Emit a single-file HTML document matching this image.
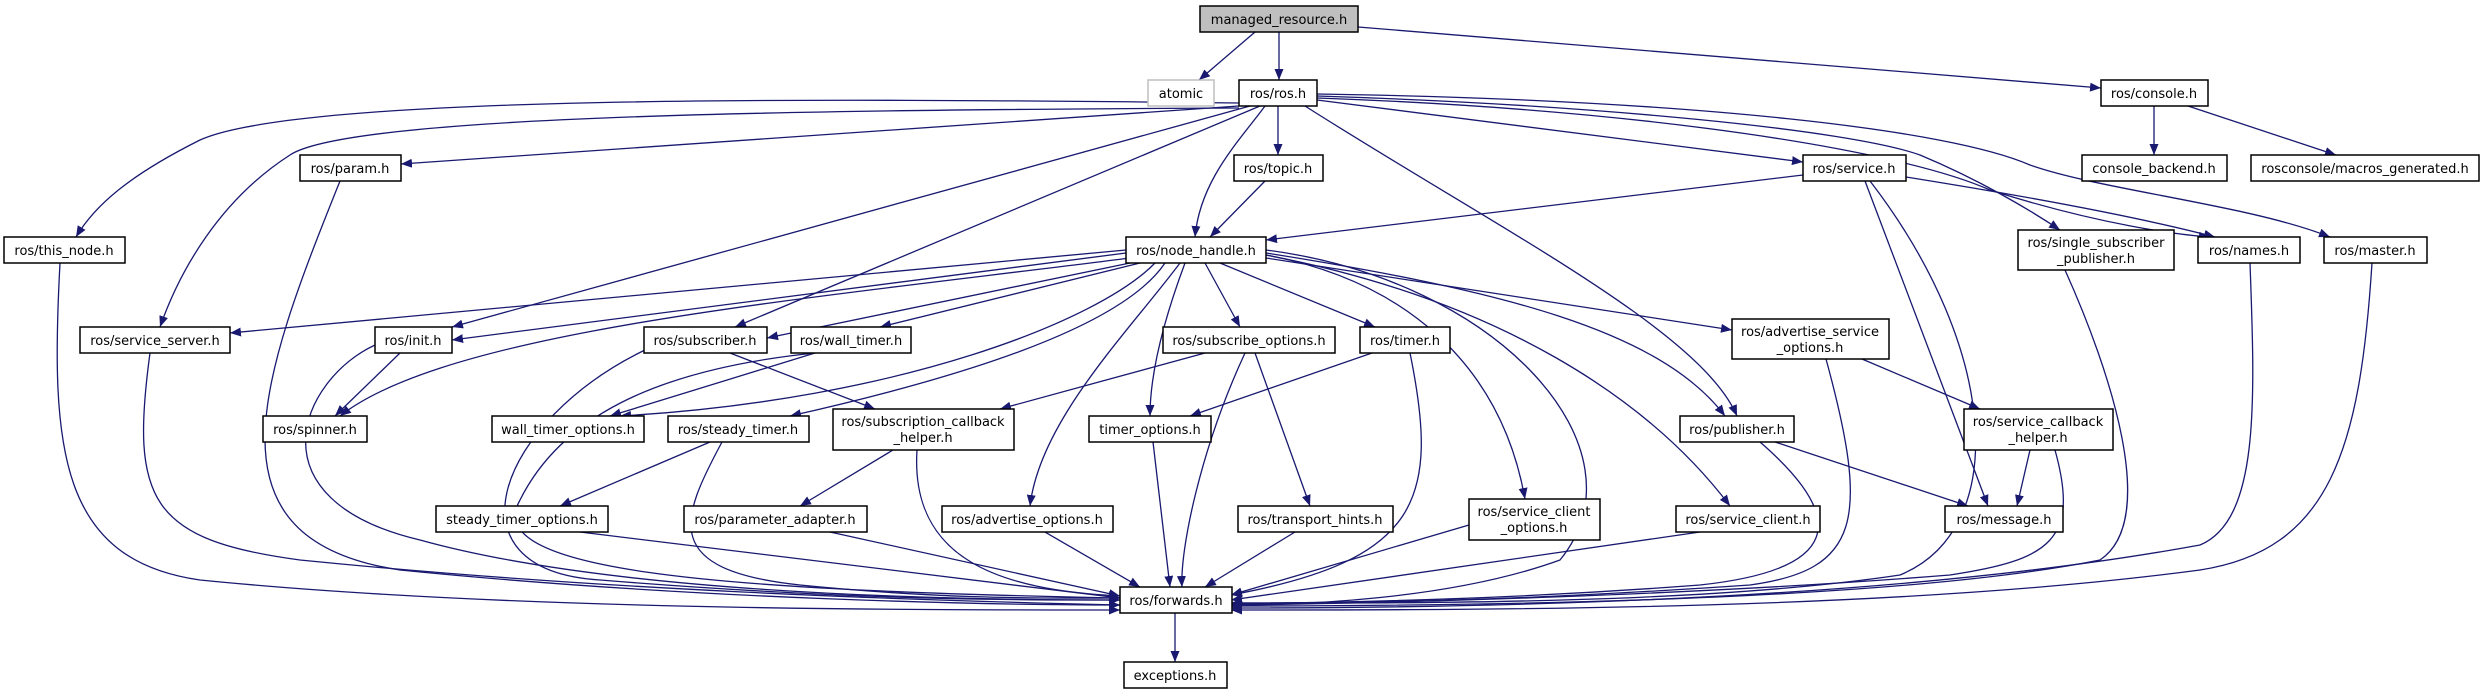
<!DOCTYPE html>
<html><head><meta charset="utf-8"><style>
html,body{margin:0;padding:0;background:#fff;}
svg{display:block;}
text{font-family:"DejaVu Sans","Liberation Sans",sans-serif;font-size:13px;fill:#000;}
.e{fill:none;stroke:#191970;stroke-width:1.3;}
.n{fill:#fff;stroke:#000;stroke-width:1.5;}
</style></head><body>
<svg width="2485" height="693" viewBox="0 0 2485 693" xmlns="http://www.w3.org/2000/svg">
<defs><marker id="a" markerWidth="11" markerHeight="9" refX="11" refY="4.5" orient="auto" markerUnits="userSpaceOnUse"><path d="M0,0 L11,4.5 L0,9z" fill="#191970"/></marker></defs>
<g class="e" marker-end="url(#a)">
<path d="M1255,32 L1199,80"/>
<path d="M1279,32 L1279,80"/>
<path d="M1358,27 L2101,88"/>
<path d="M2154,106 L2154,155"/>
<path d="M2188,106 L2336,155"/>
<path d="M1239,103 C800,98 300,95 200,140 C130,175 95,205 76,237"/>
<path d="M1239,108 C800,110 350,115 290,155 C220,200 180,270 160,327"/>
<path d="M1239,106 L401,164"/>
<path d="M1250,106 L452,327"/>
<path d="M1260,106 L735,327"/>
<path d="M1265,106 C1240,140 1200,180 1195,237"/>
<path d="M1278,106 L1278,155"/>
<path d="M1265,181 L1210,237"/>
<path d="M1305,106 C1500,230 1700,330 1737,416"/>
<path d="M1317,100 L1803,162"/>
<path d="M1317,96 C1600,105 1850,130 1920,155 C1980,180 2030,210 2060,230"/>
<path d="M1317,98 C1650,110 1900,150 1990,190 C2100,225 2180,235 2210,237"/>
<path d="M1317,94 C1700,100 1950,130 2030,165 C2100,190 2250,205 2330,237"/>
<path d="M1803,175 L1266,240"/>
<path d="M1906,177 C2050,200 2150,220 2215,237"/>
<path d="M1865,181 L1988,506"/>
<path d="M1870,181 C2000,350 2010,530 1900,575 C1700,605 1400,603 1231,603"/>
<path d="M1126,250 L230,333"/>
<path d="M1126,253 L452,340"/>
<path d="M1130,258 C800,300 450,330 340,416"/>
<path d="M1130,263 L767,338"/>
<path d="M1140,263 L880,327"/>
<path d="M1155,263 C1100,320 900,400 620,416"/>
<path d="M1165,263 C1120,330 950,380 790,416"/>
<path d="M1205,263 L1240,327"/>
<path d="M1220,263 L1375,327"/>
<path d="M1185,263 C1160,330 1150,380 1150,416"/>
<path d="M1180,263 C1130,330 1040,420 1030,506"/>
<path d="M1266,255 C1400,280 1500,360 1525,499"/>
<path d="M1266,250 C1500,280 1650,450 1560,560 C1450,600 1300,605 1231,605"/>
<path d="M1266,255 C1500,300 1650,400 1730,506"/>
<path d="M1266,253 C1500,290 1660,330 1725,416"/>
<path d="M1266,258 L1732,330"/>
<path d="M340,181 C260,380 200,540 400,570 C700,600 1000,605 1120,605"/>
<path d="M60,263 C50,450 60,560 200,580 C500,610 900,610 1120,610"/>
<path d="M150,353 C130,500 150,540 300,560 C600,590 900,600 1120,605"/>
<path d="M400,353 L335,416"/>
<path d="M375,345 C300,380 250,500 420,540 C600,590 900,600 1120,600"/>
<path d="M730,353 L875,409"/>
<path d="M645,350 C500,420 440,570 600,580 C850,600 1000,600 1120,600"/>
<path d="M815,353 L610,416"/>
<path d="M815,353 C650,370 560,420 520,500 C480,570 700,590 1120,598"/>
<path d="M710,442 L560,506"/>
<path d="M722,442 C680,520 660,570 800,585 C950,600 1050,598 1120,598"/>
<path d="M893,450 L800,506"/>
<path d="M917,450 C910,560 1000,590 1120,596"/>
<path d="M1205,353 L1000,409"/>
<path d="M1255,353 L1310,506"/>
<path d="M1245,353 C1200,450 1180,550 1182,587"/>
<path d="M1372,353 L1190,416"/>
<path d="M1410,353 C1440,500 1420,560 1231,595"/>
<path d="M1153,442 L1170,587"/>
<path d="M580,532 L1120,598"/>
<path d="M830,532 L1120,596"/>
<path d="M1045,532 L1140,587"/>
<path d="M1295,532 L1205,587"/>
<path d="M1469,525 L1231,595"/>
<path d="M1700,532 L1231,600"/>
<path d="M1775,442 L1968,506"/>
<path d="M1760,442 C1850,520 1840,570 1700,585 C1500,600 1350,602 1231,604"/>
<path d="M1862,359 L1980,409"/>
<path d="M1826,359 C1870,520 1860,570 1750,585 C1500,602 1350,603 1231,603"/>
<path d="M2030,450 L2017,506"/>
<path d="M2055,450 C2080,540 2050,560 1950,575 C1700,595 1400,603 1231,605"/>
<path d="M2065,270 C2110,370 2160,520 2100,560 C1900,600 1500,606 1231,606"/>
<path d="M2250,263 C2255,400 2260,520 2200,545 C1900,600 1500,608 1231,608"/>
<path d="M2372,263 C2360,450 2330,550 2200,570 C1900,610 1500,610 1231,610"/>
<path d="M1175,612 L1175,662"/>
</g>
<rect x="1200" y="6" width="158" height="26" fill="#bfbfbf" stroke="#000" stroke-width="1.5"/>
<text x="1279" y="24" text-anchor="middle">managed_resource.h</text>
<rect x="1148" y="80" width="66" height="26" fill="#fff" stroke="#bfbfbf" stroke-width="1.5"/>
<text x="1181" y="98" text-anchor="middle">atomic</text>
<g class="n">
<rect x="1239" y="80" width="78" height="26"/>
<rect x="2101" y="80" width="107" height="26"/>
<rect x="2082" y="155" width="145" height="26"/>
<rect x="2251" y="155" width="228" height="26"/>
<rect x="300" y="155" width="101" height="26"/>
<rect x="1234" y="155" width="89" height="26"/>
<rect x="1803" y="155" width="103" height="26"/>
<rect x="4" y="237" width="121" height="26"/>
<rect x="1126" y="237" width="140" height="26"/>
<rect x="2018" y="230" width="156" height="40"/>
<rect x="2198" y="237" width="102" height="26"/>
<rect x="2324" y="237" width="103" height="26"/>
<rect x="80" y="327" width="150" height="26"/>
<rect x="375" y="327" width="77" height="26"/>
<rect x="644" y="327" width="123" height="26"/>
<rect x="791" y="327" width="120" height="26"/>
<rect x="1163" y="327" width="172" height="26"/>
<rect x="1360" y="327" width="90" height="26"/>
<rect x="1732" y="319" width="157" height="40"/>
<rect x="263" y="416" width="104" height="26"/>
<rect x="492" y="416" width="152" height="26"/>
<rect x="668" y="416" width="141" height="26"/>
<rect x="833" y="409" width="181" height="41"/>
<rect x="1089" y="416" width="122" height="26"/>
<rect x="1680" y="416" width="114" height="26"/>
<rect x="1964" y="409" width="149" height="41"/>
<rect x="436" y="506" width="172" height="26"/>
<rect x="684" y="506" width="183" height="26"/>
<rect x="942" y="506" width="171" height="26"/>
<rect x="1238" y="506" width="155" height="26"/>
<rect x="1469" y="499" width="131" height="41"/>
<rect x="1676" y="506" width="144" height="26"/>
<rect x="1945" y="506" width="118" height="26"/>
<rect x="1120" y="587" width="112" height="26"/>
<rect x="1124" y="662" width="103" height="26"/>
</g>
<g text-anchor="middle">
<text x="1278" y="98">ros/ros.h</text>
<text x="2154" y="98">ros/console.h</text>
<text x="2154" y="173">console_backend.h</text>
<text x="2365" y="173">rosconsole/macros_generated.h</text>
<text x="350" y="173">ros/param.h</text>
<text x="1278" y="173">ros/topic.h</text>
<text x="1854" y="173">ros/service.h</text>
<text x="64" y="255">ros/this_node.h</text>
<text x="1196" y="255">ros/node_handle.h</text>
<text x="2096" y="247">ros/single_subscriber</text>
<text x="2096" y="263">_publisher.h</text>
<text x="2249" y="255">ros/names.h</text>
<text x="2375" y="255">ros/master.h</text>
<text x="155" y="345">ros/service_server.h</text>
<text x="413" y="345">ros/init.h</text>
<text x="705" y="345">ros/subscriber.h</text>
<text x="851" y="345">ros/wall_timer.h</text>
<text x="1249" y="345">ros/subscribe_options.h</text>
<text x="1405" y="345">ros/timer.h</text>
<text x="1810" y="336">ros/advertise_service</text>
<text x="1810" y="352">_options.h</text>
<text x="315" y="434">ros/spinner.h</text>
<text x="568" y="434">wall_timer_options.h</text>
<text x="738" y="434">ros/steady_timer.h</text>
<text x="923" y="426">ros/subscription_callback</text>
<text x="923" y="442">_helper.h</text>
<text x="1150" y="434">timer_options.h</text>
<text x="1737" y="434">ros/publisher.h</text>
<text x="2038" y="426">ros/service_callback</text>
<text x="2038" y="442">_helper.h</text>
<text x="522" y="524">steady_timer_options.h</text>
<text x="775" y="524">ros/parameter_adapter.h</text>
<text x="1027" y="524">ros/advertise_options.h</text>
<text x="1315" y="524">ros/transport_hints.h</text>
<text x="1534" y="516">ros/service_client</text>
<text x="1534" y="532">_options.h</text>
<text x="1748" y="524">ros/service_client.h</text>
<text x="2004" y="524">ros/message.h</text>
<text x="1176" y="605">ros/forwards.h</text>
<text x="1175" y="680">exceptions.h</text>
</g>
</svg>
</body></html>
